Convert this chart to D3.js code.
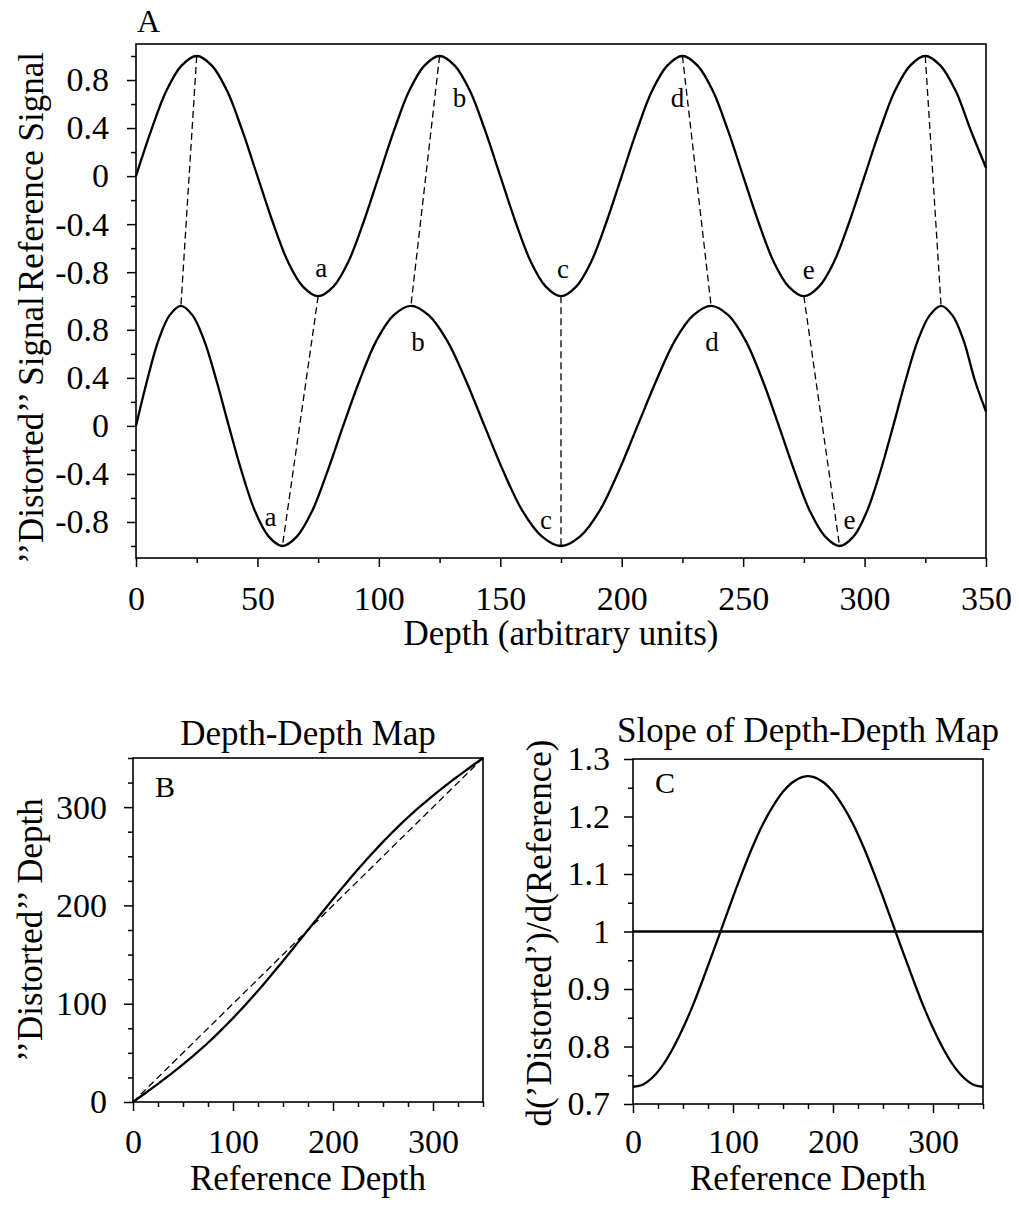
<!DOCTYPE html>
<html>
<head>
<meta charset="utf-8">
<script src="https://cdn.jsdelivr.net/npm/d3@7"></script>
<style>
  body { margin: 0; background: #fff; }
  text { font-family: "Liberation Serif", "Times New Roman", serif; fill: #000; }
</style>
</head>
<body>
<div id="chart"></div>
<script>
// reference depth grid (arbitrary units)
const refDepth = [
  0, 6.25, 12.5, 18.75, 25, 31.25, 37.5, 43.75,
  50, 56.25, 62.5, 68.75, 75, 81.25, 87.5, 93.75,
  100, 106.25, 112.5, 118.75, 125, 131.25, 137.5, 143.75,
  150, 156.25, 162.5, 168.75, 175, 181.25, 187.5, 193.75,
  200, 206.25, 212.5, 218.75, 225, 231.25, 237.5, 243.75,
  250, 256.25, 262.5, 268.75, 275, 281.25, 287.5, 293.75,
  300, 306.25, 312.5, 318.75, 325, 331.25, 337.5, 343.75,
  350
]
// reference signal read at those depths
const refSignal = [
  0, 0.38, 0.71, 0.92, 1, 0.92, 0.71, 0.38,
  0, -0.38, -0.71, -0.92, -1, -0.92, -0.71, -0.38,
  0, 0.38, 0.71, 0.92, 1, 0.92, 0.71, 0.38,
  0, -0.38, -0.71, -0.92, -1, -0.92, -0.71, -0.38,
  0, 0.38, 0.71, 0.92, 1, 0.92, 0.71, 0.38,
  0, -0.38, -0.71, -0.92, -1, -0.92, -0.71, -0.38,
  0, 0.38, 0.71, 0.92, 1, 0.92, 0.71, 0.38,
  0.07
]
// same features on the distorted record
const distSignal = [
  0, 0.38, 0.71, 0.92, 1, 0.92, 0.71, 0.38,
  0, -0.38, -0.71, -0.92, -1, -0.92, -0.71, -0.38,
  0, 0.38, 0.71, 0.92, 1, 0.92, 0.71, 0.38,
  0, -0.38, -0.71, -0.92, -1, -0.92, -0.71, -0.38,
  0, 0.38, 0.71, 0.92, 1, 0.92, 0.71, 0.38,
  0, -0.38, -0.71, -0.92, -1, -0.92, -0.71, -0.38,
  0, 0.38, 0.71, 0.92, 1, 0.92, 0.71, 0.38,
  0.12
]
// distorted depth of each reference depth (depth-depth map)
const distDepth = [
  0, 4.6, 9.2, 13.8, 18.5, 23.3, 28.1, 33.1,
  38.2, 43.5, 49.0, 54.6, 60.3, 66.3, 72.5, 78.8,
  85.3, 92.1, 99.0, 106.0, 113.2, 120.6, 128.1, 135.8,
  143.5, 151.3, 159.2, 167.1, 175, 182.9, 190.8, 198.7,
  206.5, 214.3, 221.9, 229.4, 236.8, 244.0, 251.0, 258.0,
  264.7, 271.2, 277.5, 283.7, 289.7, 295.5, 301.0, 306.5,
  311.8, 316.9, 321.9, 326.8, 331.5, 336.2, 340.8, 345.4,
  350
]

// slope of the depth-depth map
const slopeDepth = [0, 10, 20, 30, 40, 50, 60, 70, 80, 90, 100, 110, 120, 130, 140, 150, 160, 170,
  180, 190, 200, 210, 220, 230, 240, 250, 260, 270, 280, 290, 300, 310, 320, 330, 340, 350]
const slopeValue = [0.730, 0.734, 0.747, 0.768, 0.797, 0.832, 0.872, 0.917, 0.964, 1.012, 1.060, 1.106,
  1.149, 1.187, 1.218, 1.243, 1.260, 1.269, 1.269, 1.260, 1.243, 1.218, 1.187, 1.149,
  1.106, 1.060, 1.012, 0.964, 0.917, 0.872, 0.832, 0.797, 0.768, 0.747, 0.734, 0.730]

// matched peaks / troughs
const featureRef = [25, 75, 125, 175, 225, 275, 325]
const featureDist = [18.5, 60.3, 113.2, 175, 236.8, 289.7, 331.5]
const featureValue = [1, -1, 1, -1, 1, -1, 1]
const featureName = ['', 'a', 'b', 'c', 'd', 'e', '']

// ticks
const depthMajor = [0, 50, 100, 150, 200, 250, 300, 350]
const depthMinor = [25, 75, 125, 175, 225, 275, 325]
const sigMajor = [-0.8, -0.4, 0, 0.4, 0.8]
const sigMinor = [-1, -0.6, -0.2, 0.2, 0.6, 1]
const mapMajor = [0, 100, 200, 300]
const mapMinor = [25, 50, 75, 125, 150, 175, 225, 250, 275, 325, 350]
const slopeMajor = [0.7, 0.8, 0.9, 1, 1.1, 1.2, 1.3]
const slopeMinor = [0.75, 0.85, 0.95, 1.05, 1.15, 1.25]

const W = 1019, H = 1213
const serif = '"Liberation Serif", "Times New Roman", serif'
const svg = d3.select('#chart').append('svg').attr('width', W).attr('height', H)

function drawAxis(orient, scale, pos, major, minor, labelOff) {
  let mk = orient == 'bottom' ? d3.axisBottom : d3.axisLeft
  let tr = orient == 'bottom' ? 'translate(0,' + pos + ')' : 'translate(' + pos + ',0)'
  let gMin = svg.append('g').attr('transform', tr)
    .call(mk(scale).tickValues(minor).tickSize(5).tickSizeOuter(0).tickFormat(''))
  gMin.select('.domain').remove()
  let gMaj = svg.append('g').attr('transform', tr)
    .call(mk(scale).tickValues(major).tickSize(9).tickSizeOuter(0).tickFormat((d) => String(d)))
    .attr('font-family', serif)
    .attr('font-size', 34)
  gMaj.select('.domain').remove()
  svg.selectAll('.tick line').attr('stroke', '#000').attr('stroke-width', 1.5)
  let t = gMaj.selectAll('text')
    .style('font-family', serif)
    .style('font-size', '34px')
    .attr('fill', '#000')
  if (orient == 'bottom') t.attr('y', labelOff).attr('dy', 0)
  else t.attr('x', -labelOff)
}

function box(x, y0, y1) {
  svg.append('rect')
    .attr('x', x.range()[0]).attr('y', y1)
    .attr('width', x.range()[1] - x.range()[0]).attr('height', y0 - y1)
    .attr('fill', 'none').attr('stroke', '#000').attr('stroke-width', 1.6)
}

function curve(xs, ys, x, y, dashed) {
  let pts = xs.map((d, i) => [x(d), y(ys[i])])
  svg.append('path')
    .attr('d', d3.line().curve(d3.curveCatmullRom)(pts))
    .attr('fill', 'none').attr('stroke', '#000')
    .attr('stroke-width', dashed ? 1.3 : 2.3)
    .attr('stroke-dasharray', dashed ? '7,4' : null)
}

function label(txt, x, y, size, anchor, rotate) {
  let t = svg.append('text').text(txt).style('font-size', size + 'px')
    .style('font-family', serif)
    .attr('text-anchor', anchor || 'middle')
  if (rotate) t.attr('transform', 'translate(' + x + ',' + y + ') rotate(-90)')
  else t.attr('x', x).attr('y', y)
  return t
}

// ---------- Panel A ----------
let xA = d3.scaleLinear().domain([0, 350]).range([136, 986])
let yUp = d3.scaleLinear().domain([-1.04, 1.1]).range([301, 44])
let yLo = d3.scaleLinear().domain([-1.1, 1.04]).range([558, 301])

box(xA, 558, 44)
drawAxis('left', yUp, 136, sigMajor, sigMinor, 27)
drawAxis('left', yLo, 136, sigMajor, sigMinor, 27)
drawAxis('bottom', xA, 558, depthMajor, depthMinor, 52)

curve(refDepth, refSignal, xA, yUp)
curve(distDepth, distSignal, xA, yLo)

// tie lines between matched features
featureRef.forEach((r, i) => {
  svg.append('line')
    .attr('x1', xA(r)).attr('y1', yUp(featureValue[i]))
    .attr('x2', xA(featureDist[i])).attr('y2', yLo(featureValue[i]))
    .attr('stroke', '#000').attr('stroke-width', 1.3).attr('stroke-dasharray', '7,4')
})

// letter offsets from each feature point
let upOff = [null, [3, -28], [20, 42], [2, -27], [-5, 42], [5, -26], null]
let loOff = [null, [-12, -29], [7, 36], [-15, -26], [1, 36], [10, -26], null]
featureName.forEach((n, i) => {
  if (!n) return
  label(n, xA(featureRef[i]) + upOff[i][0], yUp(featureValue[i]) + upOff[i][1], 27)
    .attr('dominant-baseline', 'central')
  label(n, xA(featureDist[i]) + loOff[i][0], yLo(featureValue[i]) + loOff[i][1], 27)
    .attr('dominant-baseline', 'central')
})

label('A', 137, 32, 32, 'start')
label('Reference Signal', 43, 172, 35, 'middle', true)
label('\u2019\u2019Distorted\u2019\u2019 Signal', 43, 430, 35, 'middle', true)
label('Depth (arbitrary units)', 561, 645, 35)

// ---------- Panel B ----------
let xB = d3.scaleLinear().domain([0, 350]).range([133, 483])
let yB = d3.scaleLinear().domain([0, 350]).range([1102, 758])

box(xB, 1102, 758)
drawAxis('left', yB, 133, mapMajor, mapMinor, 26)
drawAxis('bottom', xB, 1102, mapMajor, mapMinor, 51)
curve([0, 350], [0, 350], xB, yB, true)
curve(refDepth, distDepth, xB, yB)

label('Depth-Depth Map', 308, 745, 35)
label('B', 155, 797, 30, 'start')
label('\u2019\u2019Distorted\u2019\u2019 Depth', 42, 930, 35, 'middle', true)
label('Reference Depth', 308, 1190, 35)

// ---------- Panel C ----------
let xC = d3.scaleLinear().domain([0, 350]).range([633, 983])
let yC = d3.scaleLinear().domain([0.7, 1.3]).range([1104, 759])

box(xC, 1104, 759)
drawAxis('left', yC, 633, slopeMajor, slopeMinor, 23)
drawAxis('bottom', xC, 1104, mapMajor, mapMinor, 49)
curve([0, 350], [1, 1], xC, yC)
curve(slopeDepth, slopeValue, xC, yC)

label('Slope of Depth-Depth Map', 808, 742, 35)
label('C', 655, 793, 30, 'start')
label('d(\u2019Distorted\u2019)/d(Reference)', 551, 933, 35, 'middle', true)
label('Reference Depth', 808, 1190, 35)
</script>
</body>
</html>
